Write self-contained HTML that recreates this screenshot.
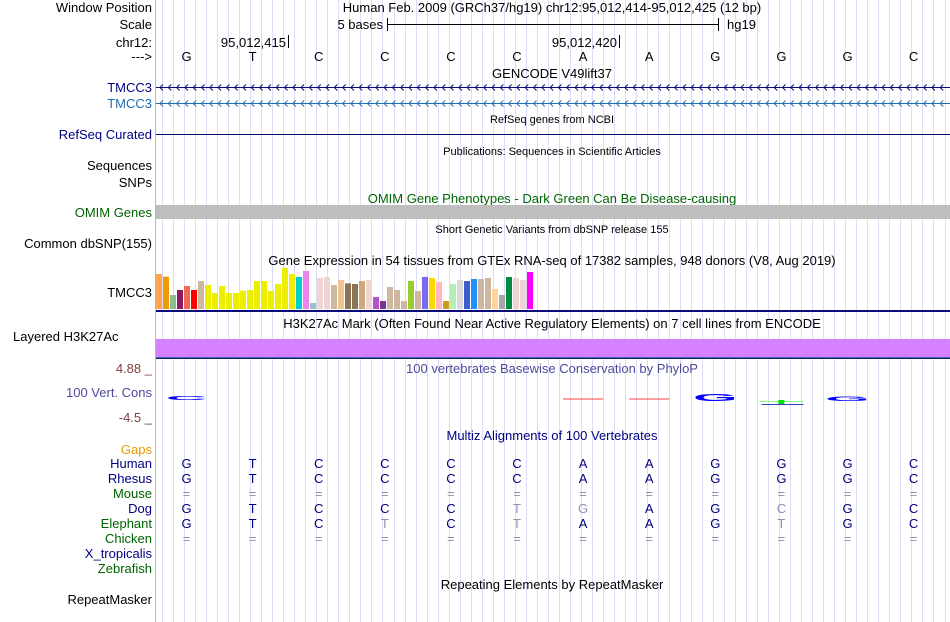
<!DOCTYPE html>
<html><head><meta charset="utf-8"><style>
body{margin:0;background:#fff}
svg text{font-family:"Liberation Sans",sans-serif}
</style></head><body>
<svg id="c" width="950" height="622" xmlns="http://www.w3.org/2000/svg" style="display:block">
<g id="grid"></g>
<line x1="155.5" y1="0" x2="155.5" y2="622" stroke="#f4a0a0"/>
<g id="labels" font-size="13" text-anchor="end"></g>
<g id="main" font-size="13"></g>
</svg>
<script>
const NS='http://www.w3.org/2000/svg';
const bases=['G','T','C','C','C','C','A','A','G','G','G','C'];
const gtexValues=[105,97,42,57,69,57,84,72,48,69,48,48,55,57,84,84,54,75,123,105,96,114,18,93,96,72,87,77,75,84,87,36,24,66,57,24,84,54,96,93,81,24,75,87,84,90,90,93,60,42,96,93,87,111];
const gtexColors=['#FFA54F','#EE9A00','#8FBC8F','#8B1C62','#EE6A50','#FF0000','#CDB79E','#EEEE00','#EEEE00','#EEEE00','#EEEE00','#EEEE00','#EEEE00','#EEEE00','#EEEE00','#EEEE00','#EEEE00','#EEEE00','#EEEE00','#EEEE00','#00CED1','#EE82EE','#9AC0CD','#EED5D2','#EED5D2','#CDB79E','#EEC591','#8B7355','#8B7355','#CDAA7D','#EED5D2','#B452CD','#7A378B','#CDB79E','#CDB79E','#CDB79E','#9ACD32','#CDB79E','#7B68EE','#FFD700','#FFB6C1','#CD9B1D','#B4EEB4','#D9D9D9','#3A5FCD','#1E90FF','#CDB79E','#CDB79E','#FFD39B','#A6A6A6','#008B45','#EED5D2','#EED5D2','#FF00FF'];
const species=['Human','Rhesus','Mouse','Dog','Elephant','Chicken','X_tropicalis','Zebrafish'];
const speciesSeq=[
 'GTCCCCAAGGGC','GTCCCCAAGGGC','============','GTCCCtgAGcGC','GTCtCtAAGtGC','============','',''];
const speciesColors=['#000080','#000080','#006400','#000080','#006400','#006400','#000080','#006400'];

const svg=document.getElementById('c');
function el(tag,attrs,parent,txt){const e=document.createElementNS(NS,tag);for(const k in attrs)e.setAttribute(k,attrs[k]);if(txt!==undefined)e.textContent=txt;(parent||svg).appendChild(e);return e;}
function bx(i){return 186.5+66.1*i;}

const grid=document.getElementById('grid');
for(let x=162.1;x<950;x+=11.02){
 const l=el('line',{x1:Math.round(x)+0.5,y1:0,x2:Math.round(x)+0.5,y2:622,stroke:'#dcdcf6'},grid);
 
 
}
const labels=document.getElementById('labels');
function lab(t,y,col,name){const e=el('text',{x:152,y:y,fill:col||'#000'},labels,t);return e;}
const main=document.getElementById('main');
function ctext(t,x,y,col,size,name,anchor){const e=el('text',{x:x,y:y,fill:col||'#000','font-size':size||13,'text-anchor':anchor||'middle'},main,t);return e;}

lab('Window Position',12,'#000','window-position-label');
lab('Scale',29,'#000','scale-label');
lab('chr12:',47,'#000','chr-label');
lab('--->',61,'#000','strand-label');
lab('TMCC3',92,'#000080','tmcc3-gencode-label');
lab('TMCC3',108,'#1f6fb4','tmcc3-gencode2-label');
lab('RefSeq Curated',139,'#000080','refseq-label');
lab('Sequences',170,'#000','sequences-label');
lab('SNPs',187,'#000','snps-label');
lab('OMIM Genes',217,'#006400','omim-label');
lab('Common dbSNP(155)',248,'#000','dbsnp-label');
lab('TMCC3',297,'#000','gtex-label');
const lh=lab('Layered H3K27Ac',341,'#000','h3k27ac-label');
lh.setAttribute('x',13);lh.setAttribute('text-anchor','start');
lab('4.88 _',373,'#7f3f3f','phylop-max-label');
lab('100 Vert. Cons',397,'#4b4b9b','phylop-label');
lab('-4.5 _',422,'#7f3f3f','phylop-min-label');
lab('Gaps',454,'#e89a00','gaps-label');
species.forEach((s,i)=>{lab(s,468+i*15,speciesColors[i],'species-'+s.toLowerCase());});
lab('RepeatMasker',604,'#000','repeatmasker-label');

ctext('Human Feb. 2009 (GRCh37/hg19)   chr12:95,012,414-95,012,425 (12 bp)',552,12,'#000',13,'position-title');
ctext('5 bases',383,29,'#000',13,'scale-text','end');
el('line',{x1:387.5,y1:18,x2:387.5,y2:31,stroke:'#000'},main);
el('line',{x1:718.5,y1:18,x2:718.5,y2:31,stroke:'#000'},main);
el('line',{x1:387,y1:24.5,x2:718,y2:24.5,stroke:'#000'},main);
ctext('hg19',727,29,'#000',13,'assembly-text','start');
ctext('95,012,415',286,47,'#000',13,'coord-415','end');
el('line',{x1:288.5,y1:35,x2:288.5,y2:48,stroke:'#000'},main);
ctext('95,012,420',617,47,'#000',13,'coord-420','end');
el('line',{x1:619.5,y1:35,x2:619.5,y2:48,stroke:'#000'},main);
bases.forEach((b,i)=>{ctext(b,bx(i),61,'#000',13,'base-'+i);});
ctext('GENCODE V49lift37',552,78,'#000',13,'gencode-title');
function geneLine(y,col,name){
 const g=el('g',{},main);
 el('line',{x1:156,y1:y+0.5,x2:950,y2:y+0.5,stroke:col},g);
 let d='';for(let x=160;x<948;x+=8.3){d+=`M${x+3},${y-2.5}L${x},${y+0.5}L${x+3},${y+3.5}`;}
 el('path',{d:d,stroke:col,fill:'none','stroke-width':1},g);
}
geneLine(87,'#0c0c78','tmcc3-gencode-gene');
geneLine(103,'#1f6fb4','tmcc3-gencode2-gene');
ctext('RefSeq genes from NCBI',552,123,'#000',11,'refseq-title');
el('line',{x1:156,y1:134.5,x2:950,y2:134.5,stroke:'#0c0c78'},main);
ctext('Publications: Sequences in Scientific Articles',552,155,'#000',11,'publications-title');
ctext('OMIM Gene Phenotypes - Dark Green Can Be Disease-causing',552,203,'#006400',13,'omim-title');
el('rect',{x:156,y:205,width:794,height:14,fill:'#bebebe'},main);
ctext('Short Genetic Variants from dbSNP release 155',552,233,'#000',11,'dbsnp-title');
ctext('Gene Expression in 54 tissues from GTEx RNA-seq of 17382 samples, 948 donors (V8, Aug 2019)',552,265,'#000',13,'gtex-title');
const base=309,maxV=123,maxH=41;
gtexValues.forEach((v,i)=>{
 const h=v/maxV*maxH;
 const r=el('rect',{x:156+i*7,y:base-h,width:6,height:h,fill:gtexColors[i]},main);
 
 
});
el('rect',{x:156,y:310,width:794,height:2,fill:'#0c0c78'},main);
ctext('H3K27Ac Mark (Often Found Near Active Regulatory Elements) on 7 cell lines from ENCODE',552,328,'#000',13,'h3k27ac-title');
el('rect',{x:156,y:339,width:794,height:18,fill:'#d580ff'},main);
el('line',{x1:156,y1:357.5,x2:950,y2:357.5,stroke:'#4060e0'},main);
el('line',{x1:156,y1:358.5,x2:950,y2:358.5,stroke:'#202040'},main);
ctext('100 vertebrates Basewise Conservation by PhyloP',552,373,'#4b4b9b',13,'phylop-title');
function glyph(t,i,y,sy,col,name){const e=el('text',{x:0,y:0,fill:col,'font-size':13,'font-weight':'bold','text-anchor':'middle',transform:`translate(${bx(i)},${y}) scale(4.4,${sy})`},main,t);}
glyph('C',0,400,0.4,'#0000ff','cons-c0');
el('line',{x1:bx(6)-20,y1:399,x2:bx(6)+20,y2:399,stroke:'#ff4040'},main);
el('line',{x1:bx(7)-20,y1:399,x2:bx(7)+20,y2:399,stroke:'#ff4040'},main);
glyph('G',8,401,0.8,'#0000ff','cons-g8');
el('line',{x1:bx(9)-22,y1:401.5,x2:bx(9)+22,y2:401.5,stroke:'#80ff80'},main);
el('rect',{x:bx(9)-3,y:400,width:6,height:4,fill:'#00e000'},main);
el('line',{x1:bx(9)-20,y1:404.5,x2:bx(9)+22,y2:404.5,stroke:'#4040c0'},main);
glyph('G',10,401,0.5,'#0000ff','cons-g10');
ctext('Multiz Alignments of 100 Vertebrates',552,440,'#000080',13,'multiz-title');
speciesSeq.forEach((s,r)=>{
 for(let i=0;i<s.length;i++){
  const ch=s[i];const low=ch!==ch.toUpperCase();
  const e=el('text',{x:bx(i),y:468+r*15,fill:low?'#9090b0':'#000080','font-size':13,'text-anchor':'middle'},main,ch.toUpperCase());
  if(ch==='='){e.setAttribute('fill','#9090b0');}
  
  
 }
});
ctext('Repeating Elements by RepeatMasker',552,589,'#000',13,'repeatmasker-title');
</script>
</body></html>
